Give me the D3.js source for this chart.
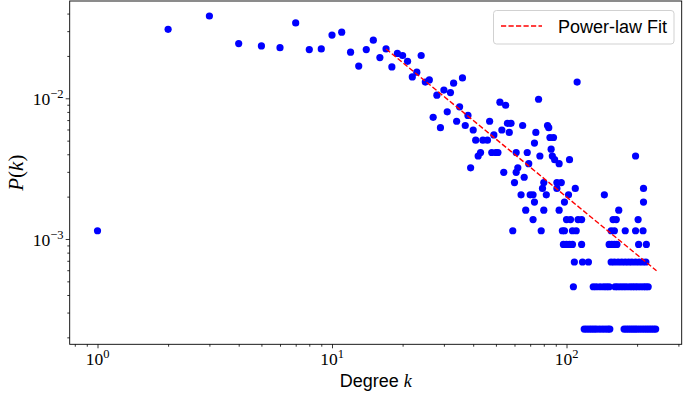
<!DOCTYPE html>
<html>
<head>
<meta charset="utf-8">
<script src="https://cdn.jsdelivr.net/npm/d3@7/dist/d3.min.js"></script>
<style>
  body { margin: 0; background: #fff; }
  svg { display: block; }
</style>
</head>
<body>
<div id="chart"></div>
<script>
// degree distribution, counts (P = count / totalNodes)
var totalNodes = 4370;
var degree = [1, 2, 3, 4, 5, 6, 7, 8, 9, 10, 11, 12, 13, 14, 15, 16, 17, 18, 19, 20,
    21, 22, 23, 24, 25, 26, 27, 28, 29, 30, 31, 32, 33, 34, 35, 36, 37, 38, 39, 40,
    41, 42, 43, 44, 46, 47, 48, 49, 50, 51, 52, 53, 54, 55, 56, 57, 58, 59, 60, 61,
    61, 62, 64, 65, 66, 67, 68, 69, 70, 72, 72, 73, 73, 74, 76, 77, 78, 79, 80, 80,
    82, 83, 84, 85, 86, 87, 88, 89, 91, 91, 93, 93, 95, 96, 97, 98, 98, 100, 100, 102,
    103, 103, 104, 106, 106, 107, 108, 109, 110, 111, 112, 116, 116, 117, 124, 145,
    // count 1
    119, 122, 125, 128, 131, 134, 138, 142, 146, 150, 153, 176, 180, 184, 188, 192, 196,
    200, 205, 210, 215, 220, 225, 230, 235, 240,
    // count 2
    130, 134, 139, 144, 148, 152, 161, 165, 170, 175, 180, 186, 191, 196, 201, 207, 213, 218, 223,
    // count 3
    155, 160, 166, 172, 178, 184, 190, 197, 204, 211, 218,
    // count 4..17 at the tail
    152, 156, 160, 164, 203, 219,
    155, 160, 178, 197, 212,
    158, 163, 202,
    167, 213, 213, 197];
var count = [5, 135, 168, 107, 103, 100, 150, 97, 98, 123, 129, 93, 74, 97, 113, 85, 98, 73, 91, 88,
    80, 62, 67, 88, 57, 59, 32, 46, 27, 50, 35, 48, 56, 30, 38, 61, 28, 33, 14, 26,
    22, 17, 18, 22, 22, 30, 18, 24, 18, 18, 41, 26, 13, 39, 29, 25, 29, 5, 11, 18,
    13, 14, 9, 28, 12, 7, 18, 15, 9, 9, 6, 8, 21, 25, 43, 17, 5, 10, 7, 11,
    9, 28, 27, 23, 19, 17, 23, 16, 11, 10, 15, 7, 11, 5, 4, 5, 8, 6, 4, 9,
    16, 4, 6, 4, 5, 2, 3, 10, 5, 57, 6, 6, 4, 3, 3, 9,
    1, 1, 1, 1, 1, 1, 1, 1, 1, 1, 1, 1, 1, 1, 1, 1, 1,
    1, 1, 1, 1, 1, 1, 1, 1, 1,
    2, 2, 2, 2, 2, 2, 2, 2, 2, 2, 2, 2, 2, 2, 2, 2, 2, 2, 2,
    3, 3, 3, 3, 3, 3, 3, 3, 3, 3, 3,
    4, 4, 4, 4, 4, 4,
    5, 5, 5, 5, 5,
    6, 6, 6,
    7, 8, 10, 17];

// power-law fit, end points of the dashed line
var fitK = [17, 242];
var fitP = [0.0224, 0.000595];

var xTicks = [1, 10, 100];
var xTickExp = ["0", "1", "2"];
var yTicks = [0.001, 0.01];
var yTickExp = ["\u22123", "\u22122"];

var W = 685, H = 394;
// plot box (window.top is reserved, so no "top" here)
var plotL = 69.7, plotR = 681.7, plotT = 1, plotB = 344.3;

var svg = d3.select("#chart").append("svg")
    .attr("width", W)
    .attr("height", H);

var x = d3.scaleLog().domain([0.761, 309.9]).range([plotL, plotR]);
var y = d3.scaleLog().domain([1.785e-4, 0.04913]).range([plotB, plotT]);

// minor tick values (2..9 of every decade inside the domain)
function minorTicks(scale) {
    var d = scale.domain(), out = [];
    for (var e = -5; e <= 3; e++) {
        for (var m = 2; m <= 9; m++) {
            var v = m * Math.pow(10, e);
            if (v >= d[0] && v <= d[1]) out.push(v);
        }
    }
    return out;
}

var gx = svg.append("g").attr("transform", "translate(0," + plotB + ")");
gx.append("g").call(d3.axisBottom(x).tickValues(minorTicks(x)).tickSize(2.4).tickFormat(""));
gx.append("g").call(d3.axisBottom(x).tickValues(xTicks).tickSize(4).tickFormat(""));
gx.selectAll(".domain").remove();
gx.selectAll("line").attr("stroke", "#000").attr("stroke-width", 0.8);

var gy = svg.append("g").attr("transform", "translate(" + plotL + ",0)");
gy.append("g").call(d3.axisLeft(y).tickValues(minorTicks(y)).tickSize(2.4).tickFormat(""));
gy.append("g").call(d3.axisLeft(y).tickValues(yTicks).tickSize(4).tickFormat(""));
gy.selectAll(".domain").remove();
gy.selectAll("line").attr("stroke", "#000").attr("stroke-width", 0.8);

// tick labels 10^n with real superscripts
var labelFont = "'Liberation Serif', 'DejaVu Serif', serif";
xTicks.forEach(function (v, i) {
    var t = svg.append("text")
        .attr("x", x(v))
        .attr("y", plotB + 21)
        .attr("text-anchor", "middle")
        .attr("font-family", labelFont)
        .attr("font-size", 17.5)
        .attr("fill", "#000");
    t.append("tspan").text("10");
    t.append("tspan").attr("dy", -7).attr("font-size", 12.5).text(xTickExp[i]);
});
yTicks.forEach(function (v, i) {
    var t = svg.append("text")
        .attr("x", 63.5)
        .attr("y", y(v) + 7)
        .attr("text-anchor", "end")
        .attr("font-family", labelFont)
        .attr("font-size", 17.5)
        .attr("fill", "#000");
    t.append("tspan").text("10");
    t.append("tspan").attr("dy", -7).attr("font-size", 12.5).text(yTickExp[i]);
});

// points
svg.append("g").selectAll("circle")
    .data(degree.map(function (k, i) { return { k: k, p: count[i] / totalNodes }; }))
    .enter().append("circle")
    .attr("cx", function (d) { return x(d.k); })
    .attr("cy", function (d) { return y(d.p); })
    .attr("r", 3.6)
    .attr("fill", "#0000ff");

// fit line (straight on log-log)
var line = d3.line()
    .x(function (d) { return x(d[0]); })
    .y(function (d) { return y(d[1]); });
svg.append("path")
    .datum(fitK.map(function (k, i) { return [k, fitP[i]]; }))
    .attr("d", line)
    .attr("fill", "none")
    .attr("stroke", "#ff0000")
    .attr("stroke-width", 1.4)
    .attr("stroke-dasharray", "5.2,2.3");

// frame
svg.append("rect")
    .attr("x", plotL)
    .attr("y", plotT)
    .attr("width", plotR - plotL)
    .attr("height", plotB - plotT)
    .attr("fill", "none")
    .attr("stroke", "#000")
    .attr("stroke-width", 0.9);

// axis titles
var xl = svg.append("text")
    .attr("x", (plotL + plotR) / 2)
    .attr("y", 387)
    .attr("text-anchor", "middle")
    .attr("font-family", "'Liberation Sans', Arial, sans-serif")
    .attr("font-size", 18)
    .attr("fill", "#000");
xl.append("tspan").text("Degree ");
xl.append("tspan").attr("font-family", labelFont).attr("font-style", "italic").text("k");

var yl = svg.append("text")
    .attr("transform", "translate(23," + ((plotT + plotB) / 2) + ") rotate(-90)")
    .attr("text-anchor", "middle")
    .attr("font-family", labelFont)
    .attr("font-size", 21)
    .attr("fill", "#000");
yl.append("tspan").attr("font-style", "italic").text("P");
yl.append("tspan").text("(");
yl.append("tspan").attr("font-style", "italic").text("k");
yl.append("tspan").text(")");

// legend
var lg = svg.append("g");
lg.append("rect")
    .attr("x", 493.5).attr("y", 10.5)
    .attr("width", 180.5).attr("height", 33.5)
    .attr("rx", 3)
    .attr("fill", "#fff").attr("fill-opacity", 0.8)
    .attr("stroke", "#cccccc").attr("stroke-width", 0.9);
lg.append("line")
    .attr("x1", 501).attr("x2", 542)
    .attr("y1", 26).attr("y2", 26)
    .attr("stroke", "#ff0000")
    .attr("stroke-width", 1.4)
    .attr("stroke-dasharray", "5.2,2.3");
lg.append("text")
    .attr("x", 558)
    .attr("y", 32.5)
    .attr("font-family", "'Liberation Sans', Arial, sans-serif")
    .attr("font-size", 18)
    .attr("fill", "#000")
    .text("Power-law Fit");
</script>
</body>
</html>
